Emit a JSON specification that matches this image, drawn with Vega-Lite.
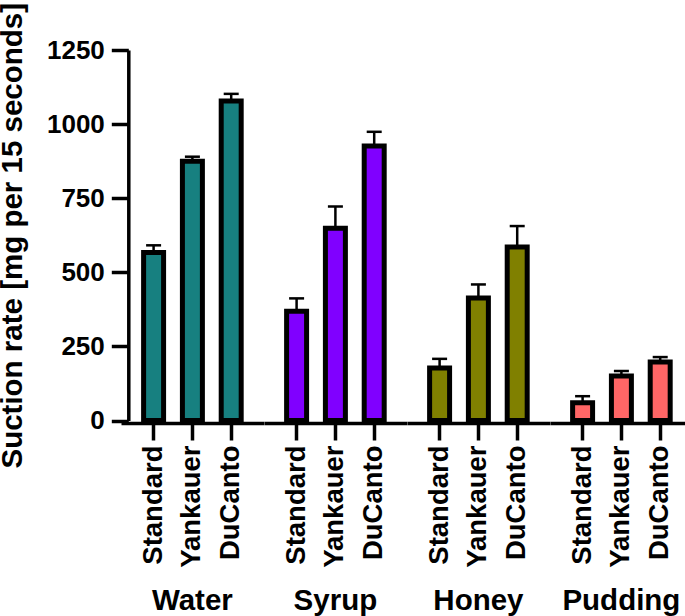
{
  "$schema": "https://vega.github.io/schema/vega-lite/v6.json",
  "background": "white",
  "padding": {"left": -3, "top": 2, "right": 0, "bottom": 0},
  "data": {
    "values": [
      {"fluid": "Water", "method": "Standard", "mean": 567, "upper": 591},
      {"fluid": "Water", "method": "Yankauer", "mean": 875, "upper": 890},
      {"fluid": "Water", "method": "DuCanto", "mean": 1078, "upper": 1102},
      {"fluid": "Syrup", "method": "Standard", "mean": 369, "upper": 412},
      {"fluid": "Syrup", "method": "Yankauer", "mean": 649, "upper": 722},
      {"fluid": "Syrup", "method": "DuCanto", "mean": 926, "upper": 974},
      {"fluid": "Honey", "method": "Standard", "mean": 177, "upper": 208},
      {"fluid": "Honey", "method": "Yankauer", "mean": 413, "upper": 459},
      {"fluid": "Honey", "method": "DuCanto", "mean": 585, "upper": 656},
      {"fluid": "Pudding", "method": "Standard", "mean": 60, "upper": 82},
      {"fluid": "Pudding", "method": "Yankauer", "mean": 150, "upper": 167},
      {"fluid": "Pudding", "method": "DuCanto", "mean": 197, "upper": 214}
    ]
  },
  "facet": {
    "column": {
      "field": "fluid",
      "type": "nominal",
      "sort": ["Water", "Syrup", "Honey", "Pudding"],
      "header": {
        "title": null,
        "labelOrient": "bottom",
        "labelFont": "Liberation Sans",
        "labelFontSize": 29.5,
        "labelFontWeight": "bold",
        "labelColor": "black",
        "labelPadding": 20
      }
    }
  },
  "spacing": 0,
  "spec": {
    "width": 142.8,
    "height": 370.5,
    "encoding": {
      "x": {
        "field": "method",
        "type": "nominal",
        "sort": ["Standard", "Yankauer", "DuCanto"],
        "scale": {"paddingInner": 0.485, "paddingOuter": 0.5826, "align": 0.5},
        "axis": {
          "title": null,
          "labelAngle": -90,
          "labelFont": "Liberation Sans",
          "labelFontSize": 27.5,
          "labelFontWeight": "bold",
          "labelColor": "black",
          "labelPadding": 5,
          "tickSize": 17,
          "tickWidth": 3.5,
          "tickColor": "black",
          "domainWidth": 3.5,
          "domainColor": "black",
          "grid": false
        }
      }
    },
    "layer": [
      {
        "mark": {"type": "rule", "strokeWidth": 2.5, "color": "black"},
        "encoding": {
          "y": {"field": "mean", "type": "quantitative"},
          "y2": {"field": "upper"}
        }
      },
      {
        "mark": {"type": "tick", "size": 15, "thickness": 2.5, "color": "black", "opacity": 1},
        "encoding": {
          "y": {"field": "upper", "type": "quantitative"}
        }
      },
      {
        "mark": {"type": "bar", "stroke": "black", "strokeWidth": 5, "strokeJoin": "miter"},
        "encoding": {
          "y": {
            "field": "mean",
            "type": "quantitative",
            "scale": {"domain": [0, 1250], "nice": false},
            "axis": {
              "title": "Suction rate [mg per 15 seconds]",
              "titleFont": "Liberation Sans",
              "titleFontSize": 29.5,
              "titleFontWeight": "bold",
              "titleColor": "black",
              "titlePadding": 19,
              "offset": -7.3,
              "values": [0, 250, 500, 750, 1000, 1250],
              "format": "d",
              "labelFont": "Liberation Sans",
              "labelFontSize": 26,
              "labelFontWeight": "bold",
              "labelColor": "black",
              "labelPadding": 7,
              "tickSize": 17,
              "tickWidth": 3.5,
              "tickColor": "black",
              "domainWidth": 3.5,
              "domainColor": "black",
              "grid": false
            }
          },
          "fill": {
            "field": "fluid",
            "type": "nominal",
            "scale": {
              "domain": ["Water", "Syrup", "Honey", "Pudding"],
              "range": ["#178080", "#8000FF", "#808000", "#FF6666"]
            },
            "legend": null
          }
        }
      }
    ]
  },
  "config": {
    "view": {"stroke": null}
  }
}
